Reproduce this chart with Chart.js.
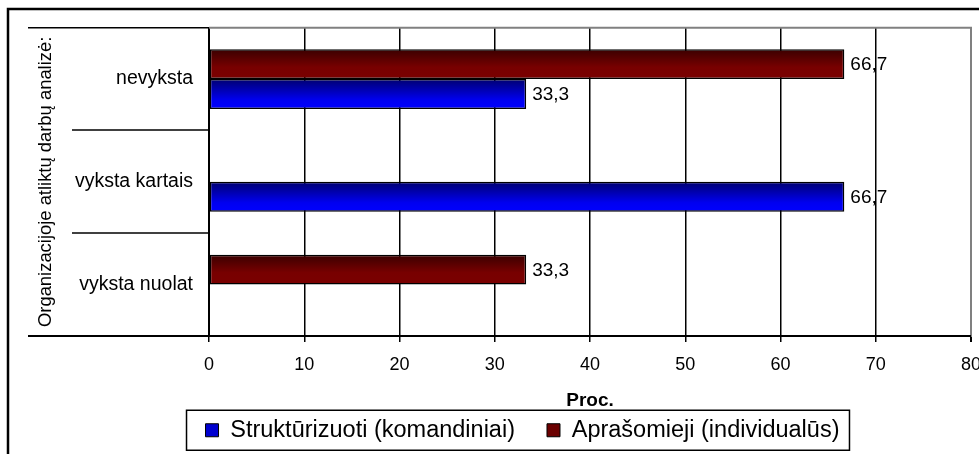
<!DOCTYPE html>
<html><head><meta charset="utf-8">
<script src="https://cdn.jsdelivr.net/npm/chart.js@4.4.1/dist/chart.umd.min.js"></script>
<style>html,body{margin:0;padding:0;background:#fff;overflow:hidden}</style>
</head><body>
<canvas id="c" width="979" height="454"></canvas>
<script>
const categories = ['nevyksta', 'vyksta kartais', 'vyksta nuolat'];
const seriesNames = ['Struktūrizuoti (komandiniai)', 'Aprašomieji (individualūs)'];
const strukturizuoti = [33.3, 66.7, null];
const aprasomieji = [66.7, null, 33.3];
const xTicks = [0, 10, 20, 30, 40, 50, 60, 70, 80];
const yTitle = 'Organizacijoje atliktų darbų analizė:';
const xTitle = 'Proc.';

const FONT = '"Liberation Sans", Arial, sans-serif';
const CAT_PCT = 0.58;
const PLOT_BOTTOM = 336;
const PAD_BOTTOM = 2;

function gradFill(solid, stops) {
  return (ctx) => {
    const chart = ctx.chart;
    const ys = chart.scales && chart.scales.y;
    if (!ys || ctx.type !== 'data') return solid;
    const band = ys.height / categories.length;
    const total = band * CAT_PCT;
    const n = chart.data.datasets.length;
    const each = total / n;
    const c = ys.getPixelForValue(ctx.dataIndex);
    const top = c - total / 2 + ctx.datasetIndex * each;
    const g = chart.ctx.createLinearGradient(0, top, 0, top + each);
    stops.forEach(s => g.addColorStop(s[0], s[1]));
    return g;
  };
}

const framePlugin = {
  id: 'frame',
  afterLayout(chart) {
    const lg = chart.legend;
    lg.left += 33; lg.right += 33;
  },
  afterDraw(chart) {
    const ctx = chart.ctx;
    const a = chart.chartArea;
    const ys = chart.scales.y;
    ctx.save();
    ctx.strokeStyle = '#000';
    ctx.lineWidth = 2.5;
    ctx.strokeRect(8, 9, 1000, 500);
    ctx.lineWidth = 1.5;
    ctx.beginPath(); ctx.moveTo(28, a.top); ctx.lineTo(a.left, a.top); ctx.stroke();
    ctx.strokeStyle = '#808080'; ctx.lineWidth = 2;
    ctx.beginPath(); ctx.moveTo(a.left, a.top); ctx.lineTo(a.right + 1, a.top); ctx.stroke();
    ctx.strokeStyle = '#000'; ctx.lineWidth = 2;
    ctx.beginPath(); ctx.moveTo(28, a.bottom); ctx.lineTo(a.left, a.bottom); ctx.stroke();
    ctx.lineWidth = 1.5;
    const band = ys.height / categories.length;
    for (let i = 1; i < categories.length; i++) {
      const y = Math.round(ys.getPixelForValue(i) - band / 2);
      ctx.beginPath(); ctx.moveTo(72, y); ctx.lineTo(a.left, y); ctx.stroke();
    }
    const lg = chart.legend;
    const hb = lg.legendHitBoxes;
    if (hb && hb.length) {
      const l = hb[0].left - 19;
      const last = hb[hb.length - 1];
      const r = last.left + last.width + 10;
      const cy = hb[0].top + hb[0].height / 2;
      ctx.lineWidth = 1.5; ctx.strokeStyle = '#000';
      ctx.strokeRect(l, cy - 20, r - l, 40);
    }
    ctx.restore();
  },
  afterDatasetsDraw(chart) {
    const ctx = chart.ctx;
    ctx.save();
    ctx.font = '19px ' + FONT;
    ctx.fillStyle = '#000';
    ctx.textBaseline = 'middle';
    ctx.textAlign = 'left';
    chart.data.datasets.forEach((ds, di) => {
      const meta = chart.getDatasetMeta(di);
      meta.data.forEach((el, i) => {
        const v = ds.data[i];
        if (v === null || v === undefined) return;
        ctx.fillText(String(v).replace('.', ','), el.x + 6, el.y + 1);
      });
    });
    ctx.restore();
  }
};

new Chart(document.getElementById('c'), {
  type: 'bar',
  data: {
    labels: categories,
    datasets: [
      {
        label: seriesNames[1],
        data: aprasomieji,
        backgroundColor: gradFill('#6b0000', [[0, '#3a0000'], [0.6, '#780000'], [1, '#7a0000']]),
        borderColor: '#000',
        borderWidth: 1.5,
        borderSkipped: false
      },
      {
        label: seriesNames[0],
        data: strukturizuoti,
        backgroundColor: gradFill('#0000d0', [[0, '#000070'], [0.7, '#0000f0'], [1, '#0000ff']]),
        borderColor: '#000',
        borderWidth: 1.5,
        borderSkipped: false
      }
    ]
  },
  options: {
    indexAxis: 'y',
    responsive: false,
    animation: false,
    devicePixelRatio: 1,
    layout: { padding: { top: 27, left: 0, right: 0, bottom: PAD_BOTTOM } },
    datasets: { bar: { categoryPercentage: CAT_PCT, barPercentage: 1 } },
    plugins: {
      tooltip: { enabled: false },
      legend: {
        position: 'bottom',
        reverse: true,
        labels: {
          color: '#000',
          font: { family: FONT, size: 23.5 },
          boxWidth: 13,
          boxHeight: 13,
          padding: 32,
          generateLabels(chart) {
            const solids = ['#6b0000', '#0000d0'];
            return chart.data.datasets.map((ds, i) => ({
              text: ds.label,
              fillStyle: solids[i],
              strokeStyle: '#000',
              lineWidth: 1,
              datasetIndex: i,
              hidden: false,
              fontColor: '#000'
            }));
          }
        }
      }
    },
    scales: {
      x: {
        type: 'linear',
        min: 0,
        max: 80,
        afterBuildTicks(scale) { scale.ticks = xTicks.map(v => ({ value: v })); },
        afterFit(scale) {
          const ch = scale.chart;
          scale.height = ch.height - PAD_BOTTOM - ch.legend.height - PLOT_BOTTOM;
          scale.paddingRight = 8;
          scale.paddingLeft = 0;
        },
        ticks: { color: '#000', font: { family: FONT, size: 18 }, padding: 12, maxRotation: 0, autoSkip: false },
        grid: {
          color: (c) => (c.tick && c.tick.value === 80 ? '#808080' : '#000'),
          lineWidth: (c) => (c.tick && c.tick.value === 80 ? 2 : 1.5),
          tickColor: '#000',
          tickLength: 6,
          drawTicks: true
        },
        border: { display: true, color: '#000', width: 2 },
        title: {
          display: true,
          text: xTitle,
          color: '#000',
          font: { family: FONT, size: 19, weight: 'bold' },
          padding: { top: 0, bottom: -26 }
        }
      },
      y: {
        type: 'category',
        afterFit(scale) { scale.width = 209; },
        ticks: { color: '#000', font: { family: FONT, size: 19.5 }, padding: 16 },
        grid: { display: false, drawTicks: false },
        border: { display: true, color: '#000', width: 2 },
        title: {
          display: true,
          text: yTitle,
          color: '#000',
          font: { family: FONT, size: 18.4 },
          padding: { top: 35, bottom: 0 }
        }
      }
    }
  },
  plugins: [framePlugin]
});
</script>
</body></html>
